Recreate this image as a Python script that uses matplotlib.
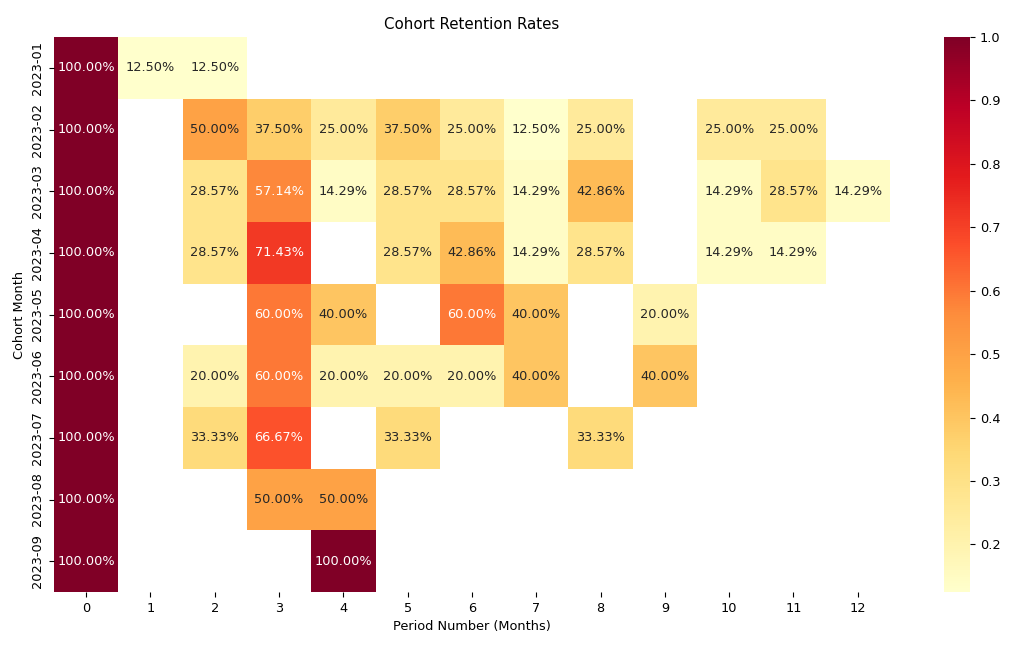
import numpy as np
import pandas as pd
import matplotlib
matplotlib.use("Agg")
import matplotlib.pyplot as plt
import seaborn as sns

cohorts = ["2023-01", "2023-02", "2023-03", "2023-04", "2023-05",
           "2023-06", "2023-07", "2023-08", "2023-09"]
periods = list(range(13))
nan = np.nan
r_2023_01 = [1.0, 0.125, 0.125, nan, nan, nan, nan, nan, nan, nan, nan, nan, nan]
r_2023_02 = [1.0, nan, 0.5, 0.375, 0.25, 0.375, 0.25, 0.125, 0.25, nan, 0.25, 0.25, nan]
r_2023_03 = [1.0, nan, 2/7, 4/7, 1/7, 2/7, 2/7, 1/7, 3/7, nan, 1/7, 2/7, 1/7]
r_2023_04 = [1.0, nan, 2/7, 5/7, nan, 2/7, 3/7, 1/7, 2/7, nan, 1/7, 1/7, nan]
r_2023_05 = [1.0, nan, nan, 0.6, 0.4, nan, 0.6, 0.4, nan, 0.2, nan, nan, nan]
r_2023_06 = [1.0, nan, 0.2, 0.6, 0.2, 0.2, 0.2, 0.4, nan, 0.4, nan, nan, nan]
r_2023_07 = [1.0, nan, 1/3, 2/3, nan, 1/3, nan, nan, 1/3, nan, nan, nan, nan]
r_2023_08 = [1.0, nan, nan, 0.5, 0.5, nan, nan, nan, nan, nan, nan, nan, nan]
r_2023_09 = [1.0, nan, nan, nan, 1.0, nan, nan, nan, nan, nan, nan, nan, nan]

df = pd.DataFrame([r_2023_01, r_2023_02, r_2023_03, r_2023_04, r_2023_05,
                   r_2023_06, r_2023_07, r_2023_08, r_2023_09],
                  index=cohorts, columns=periods)

fig = plt.figure(figsize=(10.24, 6.48), dpi=100)
ax = fig.add_axes([0.0527, 0.0864, 0.8164, 0.8565])
cax = fig.add_axes([0.922, 0.0864, 0.0254, 0.8565])

fs = 9.3
sns.heatmap(df, ax=ax, cbar_ax=cax, cmap="YlOrRd", annot=True, fmt=".2%",
            annot_kws={"fontsize": fs})
ax.set_title("Cohort Retention Rates", fontsize=10.8)
ax.set_xlabel("Period Number (Months)", fontsize=fs)
ax.set_ylabel("Cohort Month", fontsize=fs)
ax.tick_params(labelsize=fs)
cax.tick_params(labelsize=fs)

fig.savefig("out.png", dpi=100)
